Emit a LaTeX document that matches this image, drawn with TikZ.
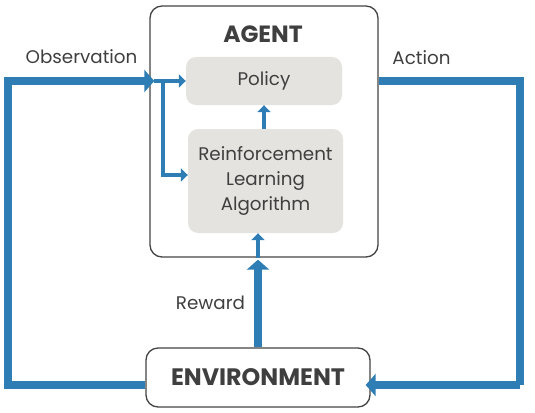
\documentclass[tikz,border=0pt]{standalone}
\usepackage{fontspec}
\setmainfont{Poppins}
\usetikzlibrary{arrows.meta}
\definecolor{rlblue}{HTML}{2E7DB5}
\definecolor{boxgray}{HTML}{E4E3DF}
\definecolor{txtgray}{HTML}{3F3F3F}
\definecolor{edgegray}{HTML}{444444}
\begin{document}
\begin{tikzpicture}[x=1pt,y=-1pt,
  frame/.style={draw=edgegray,line width=1.3pt,rounded corners=12pt,fill=white,inner sep=0pt},
  inbox/.style={fill=boxgray,rounded corners=10pt,inner sep=0pt,align=center,text=txtgray,font=\fontsize{18.3}{25}\selectfont},
  lbl/.style={text=txtgray,font=\fontsize{18.3}{20}\selectfont,inner sep=0pt},
  bigflow/.style={draw=rlblue,line width=8pt,line join=miter,-{Triangle[length=10pt,width=22pt]}},
  bigline/.style={draw=rlblue,line width=8pt,line join=miter},
  smallflow/.style={draw=rlblue,line width=4pt,line join=miter,-{Triangle[length=7pt,width=13pt]}}
]
\useasboundingbox (0,0) rectangle (535,412);
\node[frame,minimum width=228pt,minimum height=251pt] (agent) at (264,131.5) {};
\node[text=txtgray,font=\fontsize{23.5}{26}\selectfont\bfseries,inner sep=0pt] (agentlbl) at (263,34) {AGENT};
\node[inbox,minimum width=156pt,minimum height=48pt] (policy) at (264,81) {Policy};
\node[inbox,minimum width=155pt,minimum height=104pt] (rl) at (265.5,181) {Reinforcement\\Learning\\Algorithm};
\node[frame,minimum width=224pt,minimum height=59pt,font=\fontsize{23.8}{26}\selectfont\bfseries,text=txtgray] (env) at (258,377.5) {ENVIRONMENT};
\coordinate (obsin) at ([xshift=5pt]agent.west |- policy.west);
\coordinate (lcorner) at (7.5,385);
\coordinate (rcorner) at (520,385);
\coordinate (branch) at (163,0);
\coordinate (rlin) at (0,175);
% observation loop
\draw[bigflow] (env.west |- lcorner) -- (lcorner) |- (obsin);
\draw[smallflow] (obsin) -- (policy.west);
\draw[smallflow] (branch |- obsin) |- (rl.west |- rlin);
% action loop
\draw[bigline] (agent.east |- obsin) -| (rcorner);
\draw[bigflow] (rcorner) -- ([xshift=-5pt]env.east |- rcorner);
% reward
\draw[bigflow] (env.north) -- ([yshift=-2pt]env.north |- agent.south);
\draw[smallflow] (env.north |- agent.south) -- (env.north |- rl.south);
\draw[smallflow] (policy.south |- rl.north) -- (policy.south);
% labels
\node[lbl] (obslbl) at (81.5,57) {Observation};
\node[lbl] (actlbl) at (421.5,58) {Action};
\node[lbl] (rewlbl) at (210.5,303) {Reward};
\end{tikzpicture}
\end{document}
